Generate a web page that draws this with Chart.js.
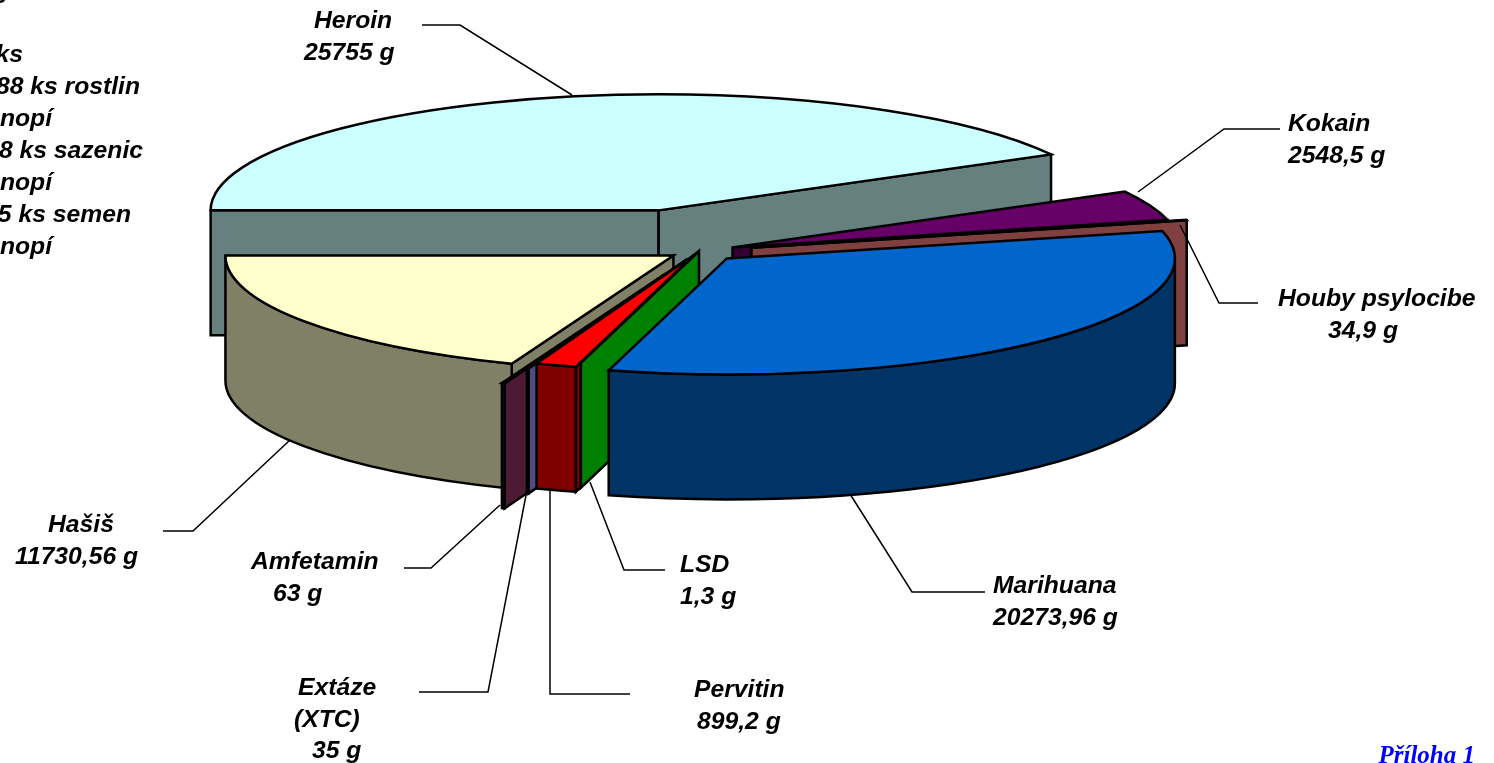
<!DOCTYPE html>
<html lang="cs">
<head>
<meta charset="utf-8">
<title>Příloha 1</title>
<script src="https://cdn.jsdelivr.net/npm/chart.js@4"></script>
<style>
  html, body { margin: 0; padding: 0; background: #fff; overflow: hidden; }
  canvas { display: block; }
</style>
</head>
<body>
<canvas id="chart" width="1494" height="763"></canvas>
<script>
// Data, clockwise from the left edge of the pie
const categories = ['Heroin', 'Kokain', 'Houby psylocibe', 'Marihuana', 'LSD', 'Pervitin', 'Extáze (XTC)', 'Amfetamin', 'Hašiš'];
const grams = [25755, 2548.5, 34.9, 20273.96, 1.3, 899.2, 35, 63, 11730.56];

// Look of the slices
const topColors = ['#CCFFFF', '#660066', '#FF8080', '#0066CC', '#00FF00', '#FF0000', '#9999FF', '#993366', '#FFFFCC'];
const explode = [162, 36, 54, 40, 0, 16, 37, 99, 31];
const paintOrder = [0, 1, 2, 8, 7, 6, 5, 4, 3];
const TILT = 0.259;
const DEPTH = 125;

// Labels: [text, x, baseline]
const labelFont = 'italic bold 24.7px "Liberation Sans"';
const labels = [
  ['Heroin', 314, 28], ['25755 g', 304, 60],
  ['Kokain', 1288, 131], ['2548,5 g', 1288, 163],
  ['Houby psylocibe', 1278, 306], ['34,9 g', 1328, 338],
  ['Marihuana', 993, 593], ['20273,96 g', 993, 625],
  ['LSD', 680, 572], ['1,3 g', 680, 604],
  ['Pervitin', 694, 697], ['899,2 g', 697, 729],
  ['Extáze', 298, 695], ['(XTC)', 294, 727], ['35 g', 312, 758],
  ['Amfetamin', 251, 569], ['63 g', 273, 601],
  ['Hašiš', 48, 532], ['11730,56 g', 15, 564]
];
// Note at the left edge, cut off by the page in the original
const sideNote = [
  ['y', 13, -2], ['ks', 23, 62], ['88 ks rostlin', 140, 94], ['konopí', 52, 126],
  ['8 ks sazenic', 143, 158], ['konopí', 52, 190],
  ['5 ks semen', 131, 222], ['konopí', 52, 254]
];
const leaders = [
  [[422, 25], [460, 25], [572, 95]],
  [[1138, 192], [1224, 129], [1280, 129]],
  [[1180, 225], [1219, 303], [1258, 303]],
  [[850, 494], [912, 592], [985, 592]],
  [[590, 482], [624, 570], [665, 570]],
  [[550, 490], [550, 694], [630, 694]],
  [[527, 490], [488, 692], [419, 692]],
  [[500, 505], [431, 568], [404, 568]],
  [[290, 440], [193, 531], [163, 531]]
];

function halfShade(hex) {
  const n = parseInt(hex.slice(1), 16);
  const c = [n >> 16, (n >> 8) & 255, n & 255].map(v => Math.round(v / 2));
  return `rgb(${c[0]},${c[1]},${c[2]})`;
}

function paint(ctx, fill) {
  ctx.fillStyle = fill;
  ctx.fill();
  ctx.stroke();
}

// Side wall going from the apex of the slice out along one of its radial edges
function radialWall(ctx, ax, ay, r, angle, color) {
  const ox = ax + r * Math.cos(angle);
  const oy = ay + r * Math.sin(angle) * TILT;
  ctx.beginPath();
  ctx.moveTo(ax, ay);
  ctx.lineTo(ox, oy);
  ctx.lineTo(ox, oy + DEPTH);
  ctx.lineTo(ax, ay + DEPTH);
  ctx.closePath();
  paint(ctx, color);
}

// Rounded wall, only the part that faces the viewer
function outerWall(ctx, ax, ay, r, from, to, color) {
  [0, 2 * Math.PI].forEach(turn => {
    const a = Math.max(from, turn);
    const b = Math.min(to, turn + Math.PI);
    if (b <= a) return;
    ctx.beginPath();
    ctx.ellipse(ax, ay, r, r * TILT, 0, a, b);
    ctx.ellipse(ax, ay + DEPTH, r, r * TILT, 0, b, a, true);
    ctx.closePath();
    paint(ctx, color);
  });
}

const tiltedPie = {
  id: 'tiltedPie',
  // replaces the flat arcs, the geometry still comes from the arc elements
  beforeDatasetsDraw(chart) {
    const ctx = chart.ctx;
    const arcs = chart.getDatasetMeta(0).data;
    ctx.save();
    ctx.strokeStyle = '#000';
    ctx.lineWidth = 2.5;
    ctx.lineJoin = 'miter';
    paintOrder.forEach(i => {
      const arc = arcs[i];
      const { x, y, startAngle, endAngle, outerRadius } = arc.getProps(['x', 'y', 'startAngle', 'endAngle', 'outerRadius']);
      const mid = (startAngle + endAngle) / 2;
      const ax = x + arc.options.offset * Math.cos(mid);
      const ay = y + arc.options.offset * Math.sin(mid) * TILT;
      const top = arc.options.backgroundColor;
      const wall = halfShade(top);

      if (Math.cos(startAngle) < 0) radialWall(ctx, ax, ay, outerRadius, startAngle, wall);
      if (Math.cos(endAngle) > 0) radialWall(ctx, ax, ay, outerRadius, endAngle, wall);
      outerWall(ctx, ax, ay, outerRadius, startAngle, endAngle, wall);

      ctx.beginPath();
      ctx.moveTo(ax, ay);
      ctx.ellipse(ax, ay, outerRadius, outerRadius * TILT, 0, startAngle, endAngle);
      ctx.closePath();
      paint(ctx, top);
    });
    ctx.restore();
    return false;
  },
  afterDraw(chart) {
    const ctx = chart.ctx;
    ctx.save();
    ctx.strokeStyle = '#000';
    ctx.lineWidth = 1.5;
    leaders.forEach(line => {
      ctx.beginPath();
      line.forEach(([px, py], i) => (i ? ctx.lineTo(px, py) : ctx.moveTo(px, py)));
      ctx.stroke();
    });
    ctx.fillStyle = '#000';
    ctx.font = labelFont;
    ctx.textAlign = 'left';
    labels.forEach(([text, px, py]) => ctx.fillText(text, px, py));
    ctx.textAlign = 'right';
    sideNote.forEach(([text, px, py]) => ctx.fillText(text, px, py));
    ctx.fillStyle = '#0000FF';
    ctx.font = 'italic bold 25px "Liberation Serif"';
    ctx.fillText('Příloha 1', 1475, 763);
    ctx.restore();
  }
};

new Chart(document.getElementById('chart'), {
  type: 'pie',
  data: {
    labels: categories,
    datasets: [{
      data: grams,
      backgroundColor: topColors,
      offset: explode,
      radius: 448
    }]
  },
  options: {
    responsive: false,
    animation: false,
    rotation: 270,
    // puts the pie centre at 699, 251
    layout: { padding: { right: 96, bottom: 261 } },
    plugins: { legend: { display: false }, tooltip: { enabled: false } }
  },
  plugins: [tiltedPie]
});
</script>
</body>
</html>
